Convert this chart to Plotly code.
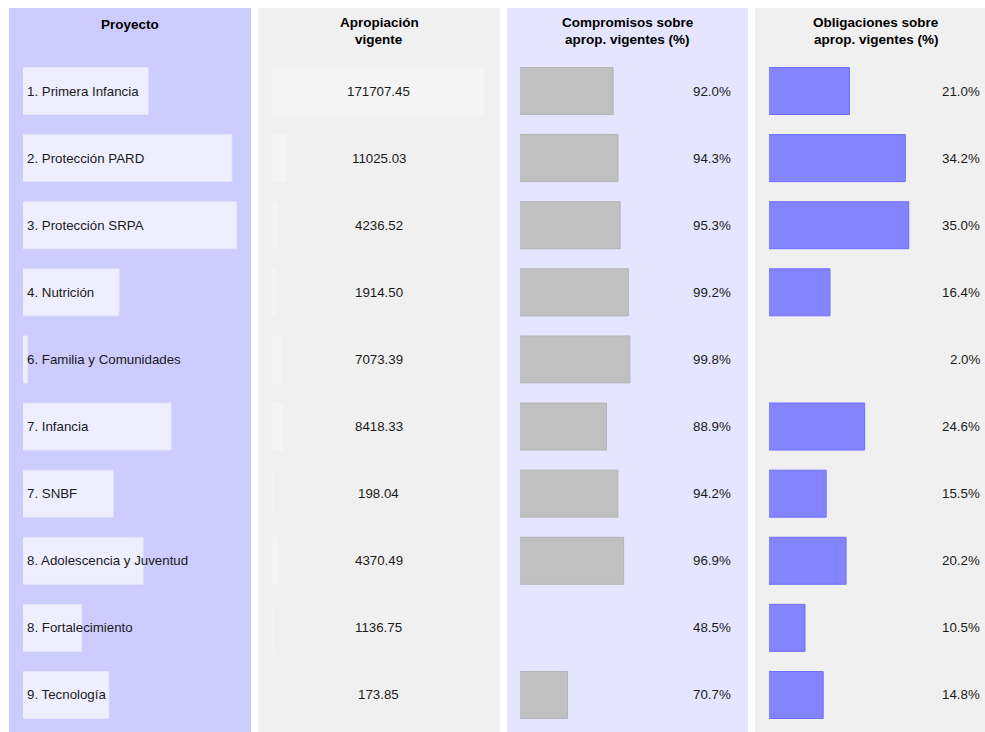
import plotly.graph_objects as go

# ---------------- data ----------------
proyectos = [
    "1. Primera Infancia",
    "2. Protección PARD",
    "3. Protección SRPA",
    "4. Nutrición",
    "6. Familia y Comunidades",
    "7. Infancia",
    "7. SNBF",
    "8. Adolescencia y Juventud",
    "8. Fortalecimiento",
    "9. Tecnología",
]
apropiacion = [171707.45, 11025.03, 4236.52, 1914.50, 7073.39,
               8418.33, 198.04, 4370.49, 1136.75, 173.85]
compromisos = [92.0, 94.3, 95.3, 99.2, 99.8, 88.9, 94.2, 96.9, 48.5, 70.7]
obligaciones = [21.0, 34.2, 35.0, 16.4, 2.0, 24.6, 15.5, 20.2, 10.5, 14.8]

headers = [
    ["Proyecto"],
    ["Apropiación", "vigente"],
    ["Compromisos sobre", "aprop. vigentes (%)"],
    ["Obligaciones sobre", "aprop. vigentes (%)"],
]

# ---------------- geometry (pixels) ----------------
W, H = 985, 732
panels_px = [(9, 251), (258, 500), (507, 748), (755, 997)]
domains_px = [(23, 237), (272.5, 484.5), (520, 733), (769, 982)]
panel_colors = ["#CCCCFF", "#F0F0F0", "#E5E5FF", "#F0F0F0"]
bar_colors = ["#EEEEFF", "#F4F4F4", "#C0C0C0", "#8484FF"]
bar_lines = ["#E4E4FA", "#F4F4F4", "#B4B4B4", "#6E6EFF"]

ranges = [
    [1.26, max(obligaciones)],
    [min(apropiacion), max(apropiacion)],
    [min(compromisos), min(compromisos) + 99.5],
    [min(obligaciones), min(obligaciones) + 50.3],
]
bar_values = [obligaciones, apropiacion, compromisos, obligaciones]

FONT = "Liberation Sans, Arial, sans-serif"
TXT = "#1a1a1a"

row0_px, row_step = 91.0, 67.11
y_top = -row0_px / row_step
y_bot = (H - row0_px) / row_step

fig = go.Figure()
for k in range(4):
    ax = "x" if k == 0 else f"x{k+1}"
    lo = ranges[k][0]
    line_w = [1 if v > lo else 0 for v in bar_values[k]]
    fig.add_trace(go.Bar(
        y=proyectos, x=bar_values[k], orientation="h",
        xaxis=ax, yaxis="y", width=0.7,
        marker=dict(color=bar_colors[k], line=dict(color=bar_lines[k], width=line_w)),
        hoverinfo="skip", showlegend=False,
    ))

layout = dict(
    width=W, height=H, autosize=False,
    margin=dict(l=0, r=0, t=0, b=0, pad=0),
    paper_bgcolor="white", plot_bgcolor="rgba(0,0,0,0)",
    bargap=0.3, showlegend=False,
    font=dict(family=FONT, size=13.3, color=TXT),
    yaxis=dict(type="category", categoryorder="array", categoryarray=proyectos,
               range=[y_bot, y_top], domain=[0, 1], visible=False,
               fixedrange=True),
)
for k in range(4):
    key = "xaxis" if k == 0 else f"xaxis{k+1}"
    d0, d1 = domains_px[k]
    layout[key] = dict(domain=[d0 / W, d1 / W], range=ranges[k], visible=False,
                       showgrid=False, zeroline=False, anchor="y", fixedrange=True)
fig.update_layout(**layout)

shapes = []
for k in range(4):
    p0, p1 = panels_px[k]
    shapes.append(dict(type="rect", xref="paper", yref="paper",
                       x0=p0 / W, x1=min(p1 / W, 1.0), y0=0, y1=1 - 8 / H,
                       fillcolor=panel_colors[k], line=dict(width=0), layer="below"))
fig.update_layout(shapes=shapes)

ann = []
# headers
for k in range(4):
    p0, p1 = panels_px[k]
    cx = (p0 + p1) / 2
    n = len(headers[k])
    for j, line in enumerate(headers[k]):
        ypx = 24 if n == 1 else (23 + 16 * j)
        ann.append(dict(xref="paper", yref="paper", x=cx / W, y=1 - ypx / H,
                        text=f"<b>{line}</b>", showarrow=False, xanchor="center",
                        yanchor="middle", font=dict(size=13.5, color="#000000", family=FONT)))
# cell texts
for i, p in enumerate(proyectos):
    ann.append(dict(xref="x domain", yref="y", x=0, y=p, xshift=2, text=p,
                    showarrow=False, xanchor="left", yanchor="middle"))
    ann.append(dict(xref="x2 domain", yref="y", x=0.5, y=p, text=f"{apropiacion[i]:.2f}",
                    showarrow=False, xanchor="center", yanchor="middle"))
    ann.append(dict(xref="x3 domain", yref="y", x=1, y=p, xshift=0,
                    text=f"{compromisos[i]:.1f}%", showarrow=False,
                    xanchor="right", yanchor="middle"))
    ann.append(dict(xref="x4 domain", yref="y", x=1, y=p, xshift=0,
                    text=f"{obligaciones[i]:.1f}%", showarrow=False,
                    xanchor="right", yanchor="middle"))
fig.update_layout(annotations=ann)

fig.write_html("out.html")
